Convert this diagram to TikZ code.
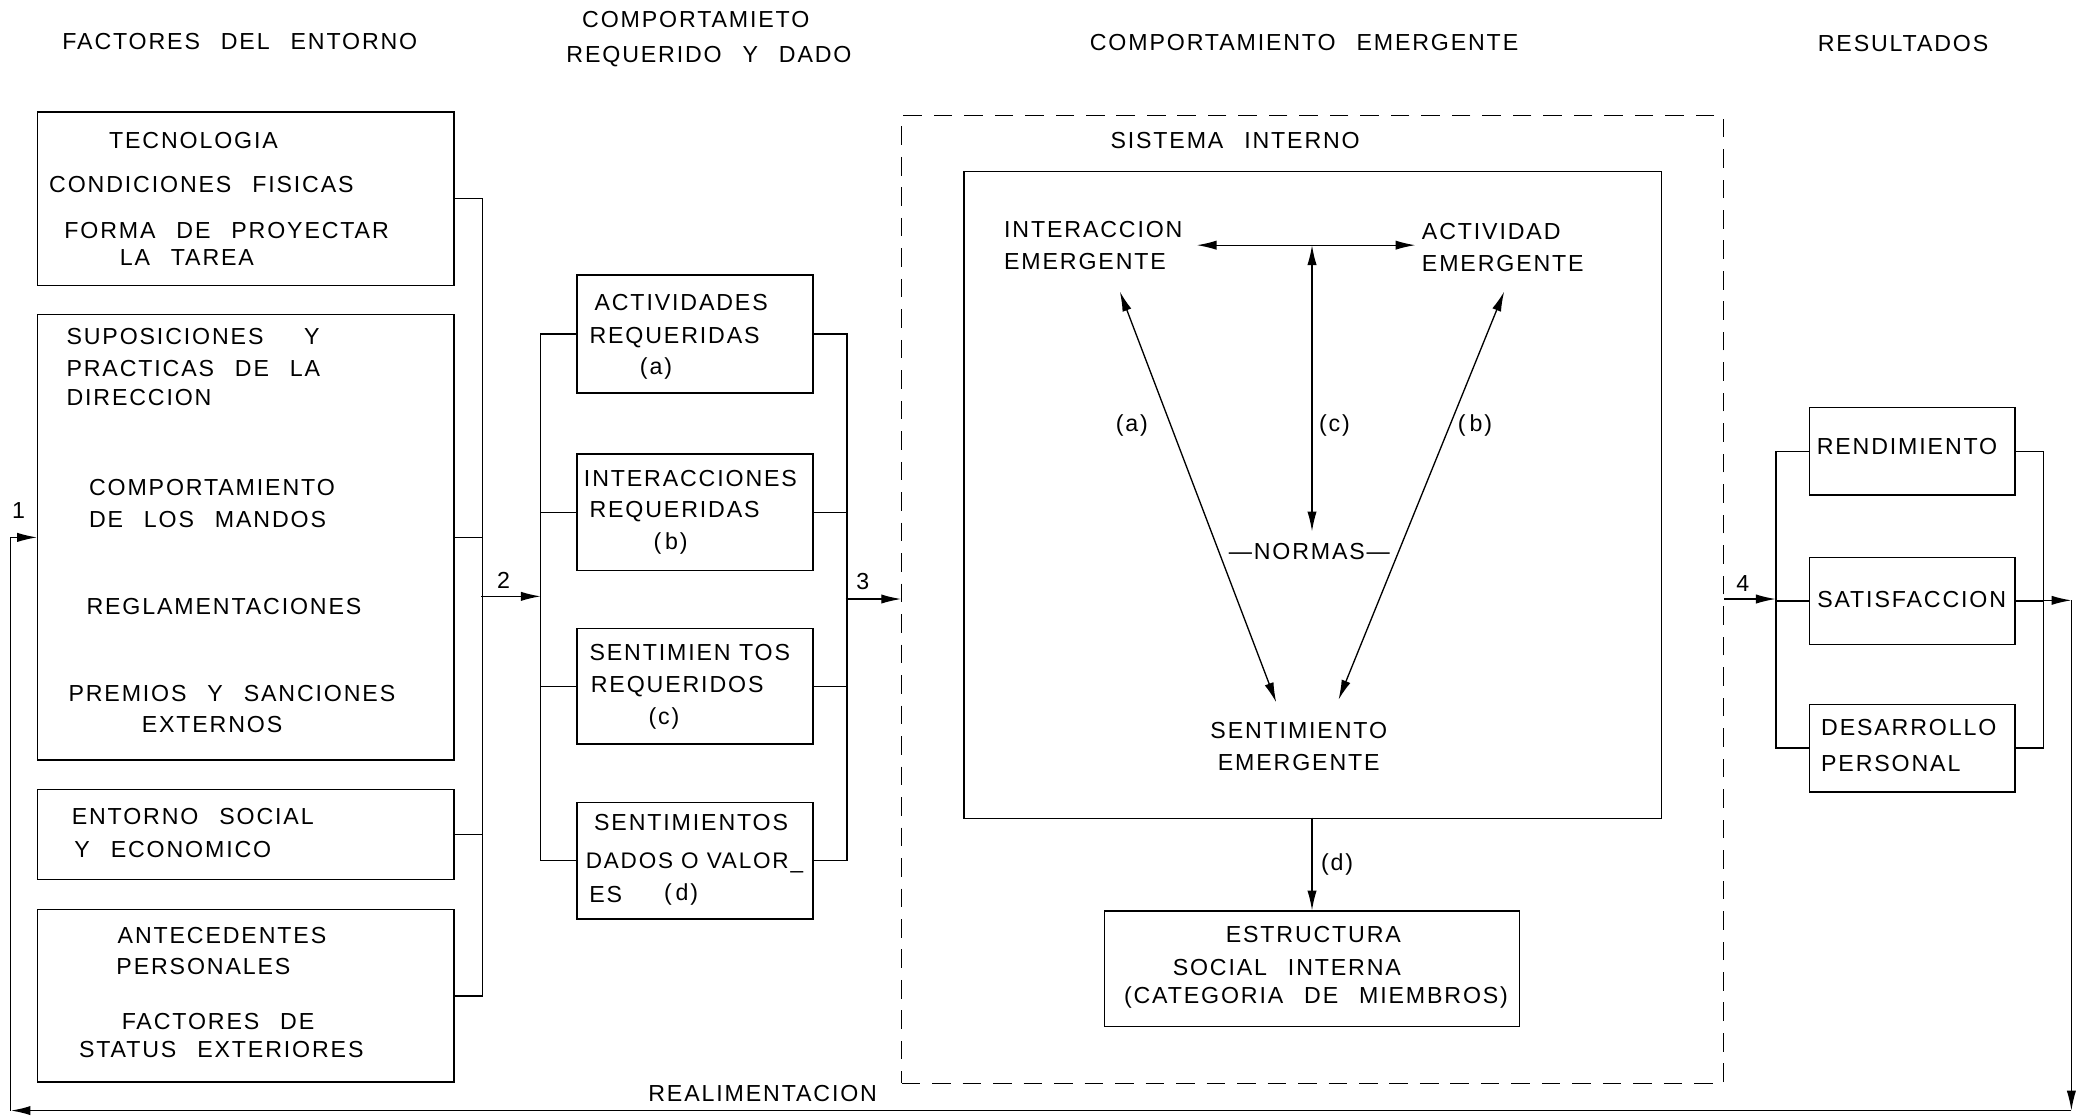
\documentclass[tikz,border=0pt]{standalone}
\usepackage{fontspec}
\setmainfont[LetterSpace=8]{Liberation Sans}
\usetikzlibrary{arrows.meta}
\newcommand\gap{\hspace{0.9em}}
\begin{document}
\begin{tikzpicture}[x=1pt,y=-1pt,
  box/.style={draw, line width=1pt, inner sep=0, anchor=north west},
  dbox/.style={draw, line width=0.9pt, dash pattern=on 14pt off 9pt, inner sep=0, anchor=north west},
  tx/.style={font=\fontsize{17.5}{24}\selectfont, inner sep=0, anchor=center},
  txl/.style={tx, anchor=west},
  ln/.style={line width=1pt},
  arr/.style={line width=1pt, -{Latex[length=15pt,width=7pt]}},
  dbl/.style={line width=1pt, {Latex[length=15pt,width=7pt]}-{Latex[length=15pt,width=7pt]}},
]
\useasboundingbox (0,0) rectangle (1568,842);

% ---------- titles
\node[tx] (T1) at (181,31) {FACTORES\gap DEL\gap ENTORNO};
\node[tx] (T2a) at (525,15) {COMPORTAMIETO};
\node[tx] (T2b) at (535,43) {REQUERIDO\gap Y\gap DADO};
\node[tx] (T3) at (984,32) {COMPORTAMIENTO\gap EMERGENTE};
\node[tx] (T4) at (1436,33) {RESULTADOS};

% ---------- environment boxes
\node[box, minimum width=314pt, minimum height=131pt] (f1) at (28,84) {};
\node[box, minimum width=314pt, minimum height=336pt] (f2) at (28,237) {};
\node[box, minimum width=314pt, minimum height=68pt] (f3) at (28,595) {};
\node[box, minimum width=314pt, minimum height=130pt] (f4) at (28,686) {};

\node[tx] (a1) at (146,106) {TECNOLOGIA};
\node[tx] (a2) at (152,139) {CONDICIONES\gap FISICAS};
\node[tx] (a3) at (171,174) {FORMA\gap DE\gap PROYECTAR};
\node[tx] (a4) at (141,194) {LA\gap TAREA};

\node[txl] (b1) at (50,254) {SUPOSICIONES\gap\hspace{0.5em} Y};
\node[txl] (b2) at (50,278) {PRACTICAS\gap DE\gap LA};
\node[txl] (b3) at (50,300) {DIRECCION};
\node[txl] (b4) at (67,368) {COMPORTAMIENTO};
\node[txl] (b5) at (67,392) {DE\gap LOS\gap MANDOS};
\node[tx] (b6) at (169,458) {REGLAMENTACIONES};
\node[tx] (b7) at (175,523) {PREMIOS\gap Y\gap SANCIONES};
\node[tx] (b8) at (160,547) {EXTERNOS};

\node[txl] (c1) at (54,616) {ENTORNO\gap SOCIAL};
\node[txl] (c2) at (56,641) {Y\gap ECONOMICO};

\node[tx] (d1) at (167.5,706) {ANTECEDENTES};
\node[tx] (d2) at (153.5,729) {PERSONALES};
\node[tx] (d3) at (164.5,771) {FACTORES\gap DE};
\node[tx] (d4) at (167,792) {STATUS\gap EXTERIORES};

% ---------- required behaviour boxes
\node[box, minimum width=178pt, minimum height=89pt] (rA) at (435,207) {};
\node[box, minimum width=178pt, minimum height=88pt] (rB) at (435,342) {};
\node[box, minimum width=178pt, minimum height=87pt] (rC) at (435,474) {};
\node[box, minimum width=178pt, minimum height=88pt] (rD) at (435,605) {};

\node[tx] (e1) at (514,228) {ACTIVIDADES};
\node[tx] (e2) at (509,255) {REQUERIDAS};
\node[tx] (e3) at (495,278) {(a)};
\node[tx] (e4) at (521,361) {INTERACCIONES};
\node[tx] (e5) at (509,386) {REQUERIDAS};
\node[tx] (e6) at (506,410) {(\,b)};
\node[tx] (e7) at (520.5,492) {SENTIMIEN TOS};
\node[tx] (e8) at (511,518) {REQUERIDOS};
\node[tx] (e9) at (501,542) {(c)};
\node[tx] (e10) at (521.5,621) {SENTIMIENTOS};
\node[tx, font=\fontsize{17}{24}\selectfont] (e11) at (524,651) {DADOS O VALOR\_};
\node[tx] (e12) at (457,675) {ES};
\node[tx] (e13) at (514,675) {(\,d)};

% ---------- internal system
\node[dbox, minimum width=620pt, minimum height=730pt] (sys) at (680,87) {};
\node[box, minimum width=526pt, minimum height=488pt] (inner) at (727,129) {};
\node[tx] (si) at (932,106) {SISTEMA\gap INTERNO};

\node[tx, align=left] (ie) at (825,185) {INTERACCION\\EMERGENTE};
\node[tx, align=left] (ae) at (1134,187) {ACTIVIDAD\\EMERGENTE};
\node[tx, align=center] (se) at (980,563) {SENTIMIENTO\\EMERGENTE};
\node[tx] (normas) at (988,416) {—NORMAS—};
\node[tx] (la) at (854,321) {(a)};
\node[tx] (lc) at (1007,321) {(c)};
\node[tx] (lb) at (1113,321) {(\,b)};

\coordinate (h1) at (903,185);
\coordinate (h2) at (1068,185);
\coordinate (v1) at (990,185);
\coordinate (v2) at (990,401);
\coordinate (pa1) at (845,220);
\coordinate (pa2) at (963,530);
\coordinate (pb1) at (1135,220);
\coordinate (pb2) at (1010,528);
\draw[dbl] (h1) -- (h2);
\draw[dbl] (v1) -- (v2);
\draw[dbl] (pa1) -- (pa2);
\draw[dbl] (pb1) -- (pb2);

\node[box, minimum width=313pt, minimum height=87pt] (est) at (833,687) {};
\node[tx] (g1) at (991,705) {ESTRUCTURA};
\node[tx] (g2) at (971,730) {SOCIAL\gap INTERNA};
\node[tx] (g3) at (993,753) {(CATEGORIA\gap DE\gap MIEMBROS)};
\coordinate (dtop) at (990,617);
\draw[arr] (dtop) -- (dtop |- est.north);
\node[tx] (ld) at (1009,652) {(d)};

% ---------- results
\node[box, minimum width=155pt, minimum height=66pt] (r1) at (1365,307) {};
\node[box, minimum width=155pt, minimum height=66pt] (r2) at (1365,420) {};
\node[box, minimum width=155pt, minimum height=66pt] (r3) at (1365,531) {};
\node[tx] (k1) at (1439,337) {RENDIMIENTO};
\node[tx] (k2) at (1442.5,452) {SATISFACCION};
\node[txl] (k3) at (1374,549) {DESARROLLO};
\node[txl] (k4) at (1374,576) {PERSONAL};

% ---------- buses and arrows
\draw[ln] (f1.east) -- ++(21,0) coordinate (L1) |- (f4.east);
\draw[ln] (f2.east) -- ++(21,0);
\draw[ln] (f3.east) -- ++(21,0);
\coordinate (j2) at (363,450);
\coordinate (m1) at (408,450);
\draw[arr] (j2) -- (m1);
\node[tx] (n2) at (380,438) {2};

\draw[ln] (rA.west) -- ++(-27,0) |- (rD.west);
\draw[ln] (rB.west) -- ++(-27,0);
\draw[ln] (rC.west) -- ++(-27,0);
\draw[ln] (rA.east) -- ++(25,0) |- (rD.east);
\draw[ln] (rB.east) -- ++(25,0);
\draw[ln] (rC.east) -- ++(25,0);
\coordinate (j3) at (638,452);
\draw[arr] (j3) -- (sys.west |- j3);
\node[tx] (n3) at (651,439) {3};

\coordinate (j4) at (1340,452);
\draw[arr] (sys.east |- j4) -- (j4);
\node[tx] (n4) at (1315,440) {4};
\draw[ln] (r1.west) -- ++(-25,0) |- (r3.west);
\draw[ln] (r2.west) -- ++(-25,0);
\draw[ln] (r1.east) -- ++(21,0) |- (r3.east);
\draw[ln] (r2.east) -- ++(21,0);

% ---------- feedback loop
\coordinate (j5) at (1541,453);
\coordinate (c1) at (1563,453);
\coordinate (c2) at (1563,838);
\coordinate (c3) at (8,838);
\draw[arr] (j5) -- (c1);
\draw[arr] (c1) -- (c2);
\draw[arr, line width=1.3pt] (c2) -- (c3);
\draw[arr] (c3) |- (f2.west);
\node[tx] (n1) at (14,385) {1};
\node[tx] (fb) at (575.5,825) {REALIMENTACION};
\end{tikzpicture}
\end{document}
